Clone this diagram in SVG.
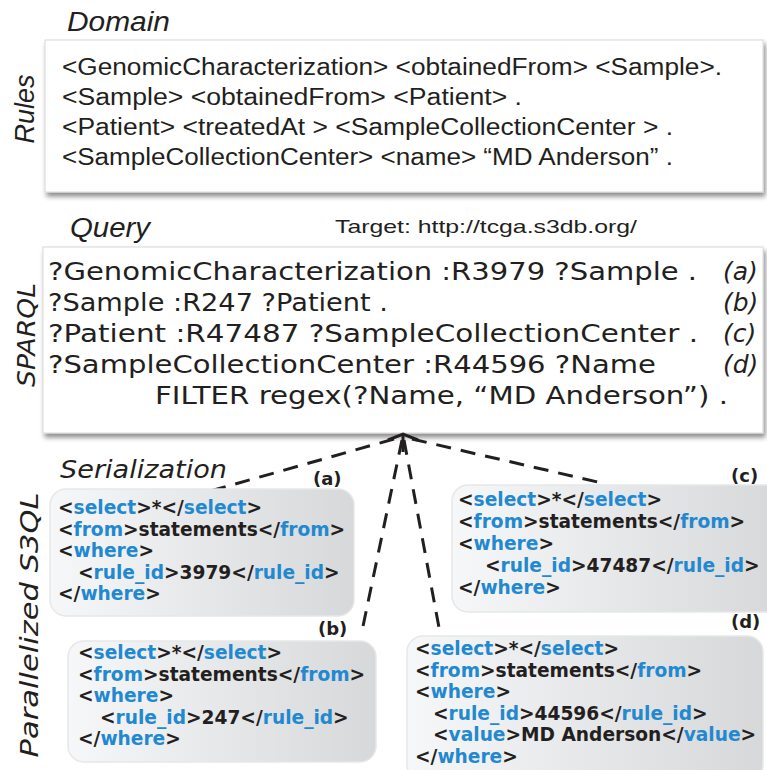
<svg xmlns="http://www.w3.org/2000/svg" width="767" height="770" viewBox="0 0 767 770">
  <defs>
    <linearGradient id="boxGrad" x1="0" y1="0" x2="1" y2="0">
      <stop offset="0" stop-color="#f6f7f8"/>
      <stop offset="1" stop-color="#d6d8da"/>
    </linearGradient>
    <filter id="shadow" x="-5%" y="-10%" width="115%" height="130%">
      <feDropShadow dx="2" dy="4" stdDeviation="2.5" flood-color="#000" flood-opacity="0.45"/>
    </filter>
    <marker id="arrow" viewBox="0 0 12 34" refX="10" refY="17" markerWidth="12" markerHeight="34" markerUnits="userSpaceOnUse" orient="auto">
      <path d="M4,2 L10,17 L4,32" fill="none" stroke="#231f20" stroke-width="3" stroke-linejoin="miter"/>
    </marker>
    <style>
      .label { font-family: "Liberation Sans", Arial, sans-serif; font-style: italic; font-size: 27px; fill: #231f20; }
      .vlabel { font-family: "DejaVu Sans", Verdana, sans-serif; font-style: italic; font-size: 25px; fill: #231f20; }
      .rule { font-family: "Liberation Sans", Arial, sans-serif; font-size: 23.5px; fill: #231f20; }
      .target { font-family: "Liberation Sans", Arial, sans-serif; font-size: 19px; fill: #231f20; }
      .sparql { font-family: "DejaVu Sans", Verdana, sans-serif; font-size: 25px; fill: #231f20; }
      .tag { font-family: "DejaVu Sans", Verdana, sans-serif; font-style: italic; font-size: 25px; fill: #231f20; }
      .s3ql { font-family: "DejaVu Sans", Verdana, sans-serif; font-weight: bold; font-size: 18.6px; fill: #231f20; }
      .kw { fill: #2288d0; }
      .sub { font-family: "DejaVu Sans", Verdana, sans-serif; font-weight: bold; font-size: 18px; fill: #231f20; }
      .panel { fill: #ffffff; stroke: #d8d8d8; stroke-width: 1; filter: url(#shadow); }
      .sbox { fill: url(#boxGrad); stroke: #e6e7e8; stroke-width: 1.5; }
      .dash { fill: none; stroke: #231f20; stroke-width: 3; stroke-dasharray: 15 10; }
    </style>
  </defs>
  <rect width="767" height="770" fill="#ffffff"/>

  <!-- Section labels -->
  <text class="label" x="67" y="31" textLength="103" lengthAdjust="spacingAndGlyphs">Domain</text>
  <text class="label" transform="translate(34,109) rotate(-90)" text-anchor="middle">Rules</text>
  <text class="label" x="70" y="237" textLength="80" lengthAdjust="spacingAndGlyphs">Query</text>
  <text class="target" x="335" y="233" textLength="302" lengthAdjust="spacingAndGlyphs">Target: http://tcga.s3db.org/</text>
  <text class="vlabel" transform="translate(35,335) rotate(-90)" text-anchor="middle" textLength="104" lengthAdjust="spacingAndGlyphs">SPARQL</text>
  <text class="vlabel" x="60" y="478" textLength="167" lengthAdjust="spacingAndGlyphs">Serialization</text>
  <text class="vlabel" transform="translate(38,625) rotate(-90)" text-anchor="middle" textLength="265" lengthAdjust="spacingAndGlyphs">Parallelized S3QL</text>

  <!-- Rules node -->
  <g id="rules">
    <rect class="panel" x="45" y="40" width="718" height="152"/>
    <text class="rule" x="62" y="75" textLength="660" lengthAdjust="spacingAndGlyphs">&lt;GenomicCharacterization&gt; &lt;obtainedFrom&gt; &lt;Sample&gt;.</text>
    <text class="rule" x="62" y="105" textLength="460" lengthAdjust="spacingAndGlyphs">&lt;Sample&gt; &lt;obtainedFrom&gt; &lt;Patient&gt; .</text>
    <text class="rule" x="62" y="135" textLength="611" lengthAdjust="spacingAndGlyphs">&lt;Patient&gt; &lt;treatedAt &gt; &lt;SampleCollectionCenter &gt; .</text>
    <text class="rule" x="62" y="165" textLength="611" lengthAdjust="spacingAndGlyphs">&lt;SampleCollectionCenter&gt; &lt;name&gt; “MD Anderson” .</text>
  </g>

  <!-- SPARQL node -->
  <g id="sparql">
    <rect class="panel" x="43" y="247" width="720" height="186"/>
    <text class="sparql" x="48" y="280" textLength="649" lengthAdjust="spacingAndGlyphs">?GenomicCharacterization :R3979 ?Sample .</text>
    <text class="sparql" x="48" y="311" textLength="340" lengthAdjust="spacingAndGlyphs">?Sample :R247 ?Patient .</text>
    <text class="sparql" x="48" y="342" textLength="650" lengthAdjust="spacingAndGlyphs">?Patient :R47487 ?SampleCollectionCenter .</text>
    <text class="sparql" x="48" y="373" textLength="608" lengthAdjust="spacingAndGlyphs">?SampleCollectionCenter :R44596 ?Name</text>
    <text class="sparql" x="155" y="404" textLength="573" lengthAdjust="spacingAndGlyphs">FILTER regex(?Name, “MD Anderson”) .</text>
    <text class="tag" x="723" y="280">(a)</text>
    <text class="tag" x="723" y="311">(b)</text>
    <text class="tag" x="723" y="342">(c)</text>
    <text class="tag" x="723" y="373">(d)</text>
  </g>

  <!-- Connectors -->
  <g id="connectors">
    <line class="dash" x1="394" y1="439" x2="207" y2="492"/>
    <line class="dash" x1="402" y1="440" x2="362" y2="631"/>
    <line class="dash" x1="404" y1="440" x2="440" y2="633"/>
    <line class="dash" x1="412" y1="439" x2="602" y2="483"/>
    <line x1="403" y1="452" x2="403" y2="434" stroke="#231f20" stroke-width="3" marker-end="url(#arrow)"/>
  </g>

  <!-- S3QL (a) -->
  <g id="s3ql-a">
    <rect class="sbox" x="50" y="489" width="304" height="127" rx="16"/>
    <text class="sub" x="313" y="485">(a)</text>
    <text class="s3ql" x="58" y="514">&lt;<tspan class="kw">select</tspan>&gt;*&lt;/<tspan class="kw">select</tspan>&gt;</text>
    <text class="s3ql" x="58" y="536">&lt;<tspan class="kw">from</tspan>&gt;statements&lt;/<tspan class="kw">from</tspan>&gt;</text>
    <text class="s3ql" x="58" y="557">&lt;<tspan class="kw">where</tspan>&gt;</text>
    <text class="s3ql" x="78" y="579">&lt;<tspan class="kw">rule_id</tspan>&gt;3979&lt;/<tspan class="kw">rule_id</tspan>&gt;</text>
    <text class="s3ql" x="58" y="600">&lt;/<tspan class="kw">where</tspan>&gt;</text>
  </g>

  <!-- S3QL (b) -->
  <g id="s3ql-b">
    <rect class="sbox" x="68" y="641" width="308" height="121" rx="16"/>
    <text class="sub" x="318" y="635">(b)</text>
    <text class="s3ql" x="78" y="659">&lt;<tspan class="kw">select</tspan>&gt;*&lt;/<tspan class="kw">select</tspan>&gt;</text>
    <text class="s3ql" x="78" y="681">&lt;<tspan class="kw">from</tspan>&gt;statements&lt;/<tspan class="kw">from</tspan>&gt;</text>
    <text class="s3ql" x="78" y="702">&lt;<tspan class="kw">where</tspan>&gt;</text>
    <text class="s3ql" x="100" y="724">&lt;<tspan class="kw">rule_id</tspan>&gt;247&lt;/<tspan class="kw">rule_id</tspan>&gt;</text>
    <text class="s3ql" x="78" y="745">&lt;/<tspan class="kw">where</tspan>&gt;</text>
  </g>

  <!-- S3QL (c) -->
  <g id="s3ql-c">
    <rect class="sbox" x="452" y="485" width="330" height="127" rx="16"/>
    <text class="sub" x="731" y="482">(c)</text>
    <text class="s3ql" x="458" y="506">&lt;<tspan class="kw">select</tspan>&gt;*&lt;/<tspan class="kw">select</tspan>&gt;</text>
    <text class="s3ql" x="458" y="528">&lt;<tspan class="kw">from</tspan>&gt;statements&lt;/<tspan class="kw">from</tspan>&gt;</text>
    <text class="s3ql" x="458" y="550">&lt;<tspan class="kw">where</tspan>&gt;</text>
    <text class="s3ql" x="485" y="572">&lt;<tspan class="kw">rule_id</tspan>&gt;47487&lt;/<tspan class="kw">rule_id</tspan>&gt;</text>
    <text class="s3ql" x="458" y="594">&lt;/<tspan class="kw">where</tspan>&gt;</text>
  </g>

  <!-- S3QL (d) -->
  <g id="s3ql-d">
    <rect class="sbox" x="407" y="636" width="356" height="145" rx="16"/>
    <text class="sub" x="731" y="628">(d)</text>
    <text class="s3ql" x="415" y="655">&lt;<tspan class="kw">select</tspan>&gt;*&lt;/<tspan class="kw">select</tspan>&gt;</text>
    <text class="s3ql" x="415" y="677">&lt;<tspan class="kw">from</tspan>&gt;statements&lt;/<tspan class="kw">from</tspan>&gt;</text>
    <text class="s3ql" x="415" y="698">&lt;<tspan class="kw">where</tspan>&gt;</text>
    <text class="s3ql" x="433" y="720">&lt;<tspan class="kw">rule_id</tspan>&gt;44596&lt;/<tspan class="kw">rule_id</tspan>&gt;</text>
    <text class="s3ql" x="433" y="741">&lt;<tspan class="kw">value</tspan>&gt;MD Anderson&lt;/<tspan class="kw">value</tspan>&gt;</text>
    <text class="s3ql" x="415" y="763">&lt;/<tspan class="kw">where</tspan>&gt;</text>
  </g>
</svg>
